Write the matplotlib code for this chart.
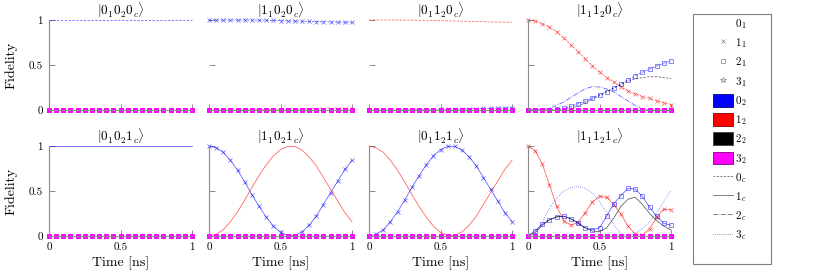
import matplotlib
matplotlib.use("Agg")
import matplotlib.pyplot as plt
from matplotlib.lines import Line2D
from matplotlib.patches import Patch, Rectangle

plt.rcParams['font.family'] = 'serif'
plt.rcParams['font.serif'] = ['cmr10', 'DejaVu Serif']
plt.rcParams['mathtext.fontset'] = 'cm'
plt.rcParams['axes.unicode_minus'] = False

# ---------------- data ----------------
t = [0.0, 0.05, 0.1, 0.15, 0.2, 0.25, 0.3, 0.35, 0.4, 0.45, 0.5,
     0.55, 0.6, 0.65, 0.7, 0.75, 0.8, 0.85, 0.9, 0.95, 1.0]

titles = [r'$|0_1 0_2 0_c\rangle$', r'$|1_1 0_2 0_c\rangle$', r'$|0_1 1_2 0_c\rangle$', r'$|1_1 1_2 0_c\rangle$',
          r'$|0_1 0_2 1_c\rangle$', r'$|1_1 0_2 1_c\rangle$', r'$|0_1 1_2 1_c\rangle$', r'$|1_1 1_2 1_c\rangle$']

ones = [1.0] * 21
zeros = [0.0] * 21

# panel |1 0 0>
p100_blue_x = [1, 1, 1, 1, 1, 1, 0.999, 0.998, 0.997, 0.995, 0.993, 0.99, 0.988, 0.986, 0.984,
               0.982, 0.98, 0.979, 0.977, 0.976, 0.975]
p100_red = [0, 0, 0, 0, 0, 0, 0.001, 0.002, 0.003, 0.005, 0.007, 0.009, 0.011, 0.013, 0.015,
            0.017, 0.019, 0.02, 0.021, 0.022, 0.023]
# panel |0 1 0>
p010_red = [1, 1, 1, 1, 0.999, 0.999, 0.998, 0.997, 0.996, 0.995, 0.993, 0.991, 0.989, 0.987, 0.985,
            0.983, 0.981, 0.979, 0.977, 0.976, 0.975]
p010_blue_x = [0, 0, 0, 0, 0, 0, 0.001, 0.002, 0.003, 0.004, 0.006, 0.008, 0.01, 0.012, 0.014,
               0.016, 0.018, 0.02, 0.022, 0.024, 0.025]
# panel |1 1 0>
p110_red_x = [1, 0.99, 0.96, 0.92, 0.87, 0.8, 0.72, 0.65, 0.57, 0.49, 0.42, 0.36, 0.31, 0.26, 0.21,
              0.18, 0.15, 0.13, 0.1, 0.08, 0.06]
p110_blue_sq = [0, 0, 0, 0.003, 0.008, 0.02, 0.04, 0.07, 0.1, 0.135, 0.17, 0.205, 0.245, 0.29, 0.335,
                0.38, 0.42, 0.455, 0.49, 0.52, 0.545]
p110_black = [0, 0, 0, 0, 0, 0.005, 0.02, 0.045, 0.08, 0.12, 0.16, 0.2, 0.245, 0.28, 0.32,
              0.345, 0.36, 0.37, 0.37, 0.36, 0.35]
p110_blue = [0, 0, 0.005, 0.02, 0.05, 0.09, 0.14, 0.19, 0.235, 0.26, 0.255, 0.235, 0.2, 0.15, 0.1,
             0.05, 0.01, 0, 0, 0, 0]
# panel |1 0 1>
p101_blue_x = [1, 0.98, 0.93, 0.84, 0.73, 0.6, 0.46, 0.33, 0.21, 0.11, 0.04, 0.005, 0.005, 0.045, 0.12,
               0.22, 0.35, 0.48, 0.61, 0.74, 0.84]
p101_red = [0, 0.02, 0.07, 0.16, 0.27, 0.4, 0.54, 0.67, 0.79, 0.89, 0.96, 0.995, 0.995, 0.955, 0.88,
            0.78, 0.65, 0.52, 0.39, 0.26, 0.16]
# panel |0 1 1>
p011_red = [1, 0.98, 0.93, 0.84, 0.73, 0.6, 0.46, 0.33, 0.21, 0.11, 0.04, 0.005, 0.005, 0.045, 0.12,
            0.22, 0.35, 0.48, 0.61, 0.74, 0.84]
p011_blue_x = [0, 0.02, 0.07, 0.16, 0.27, 0.4, 0.54, 0.67, 0.79, 0.89, 0.96, 0.995, 0.995, 0.955, 0.88,
               0.78, 0.65, 0.52, 0.39, 0.26, 0.16]
# panel |1 1 1>
p111_red_x = [1, 0.95, 0.8, 0.57, 0.33, 0.17, 0.12, 0.15, 0.26, 0.38, 0.44, 0.43, 0.35, 0.24, 0.11,
              0.02, 0.01, 0.08, 0.21, 0.3, 0.29]
p111_blue_sq = [0, 0.06, 0.13, 0.18, 0.21, 0.22, 0.19, 0.15, 0.09, 0.07, 0.09, 0.22, 0.36, 0.45, 0.53,
                0.52, 0.44, 0.32, 0.22, 0.14, 0.12]
p111_black = [0, 0.04, 0.12, 0.18, 0.215, 0.22, 0.19, 0.14, 0.09, 0.055, 0.05, 0.09, 0.2, 0.33, 0.41,
              0.43, 0.35, 0.25, 0.17, 0.11, 0.066]
p111_blue_dot = [0, 0.02, 0.15, 0.31, 0.42, 0.5, 0.54, 0.55, 0.53, 0.48, 0.38, 0.26, 0.12, 0.03, 0,
                 0.03, 0.08, 0.16, 0.26, 0.38, 0.51]

BLUE, RED, BLACK, MAG = '#0000ff', '#ff0000', '#000000', '#ff00ff'
LS = {'0c': (0, (3, 2)), '1c': '-', '2c': '-.', '3c': ':'}

# (values, color, linestyle, marker)
panels = [
    [(ones, BLUE, LS['0c'], None)],
    [(p100_blue_x, BLUE, LS['0c'], 'x'), (p100_red, RED, LS['0c'], None)],
    [(p010_red, RED, LS['0c'], None), (p010_blue_x, BLUE, LS['0c'], 'x')],
    [(p110_red_x, RED, LS['0c'], 'x'), (p110_blue_sq, BLUE, LS['0c'], 's'),
     (p110_black, BLACK, LS['0c'], None), (p110_blue, BLUE, LS['2c'], None)],
    [(ones, BLUE, LS['1c'], None)],
    [(p101_blue_x, BLUE, LS['1c'], 'x'), (p101_red, RED, LS['1c'], None)],
    [(p011_red, RED, LS['1c'], None), (p011_blue_x, BLUE, LS['1c'], 'x')],
    [(p111_red_x, RED, LS['1c'], 'x'), (p111_blue_sq, BLUE, LS['1c'], 's'),
     (p111_black, BLACK, LS['1c'], None), (p111_blue_dot, BLUE, LS['3c'], None)],
]

# ---------------- figure ----------------
W, H = 830, 278
fig = plt.figure(figsize=(W / 100, H / 100), dpi=100)
lefts = [49, 209, 369, 528]
tops = [20, 146]
aw, ah = 143, 90
SPINE = '#8a8a8a'

for i in range(8):
    r, c = divmod(i, 4)
    ax = fig.add_axes([lefts[c] / W, 1 - (tops[r] + ah) / H, aw / W, ah / H])
    ax.set_xlim(0, 1)
    ax.set_ylim(0, 1)
    for sp in ['top', 'right']:
        ax.spines[sp].set_visible(False)
    for sp in ['left', 'bottom']:
        ax.spines[sp].set_color(SPINE)
        ax.spines[sp].set_linewidth(0.8)
    if r == 0 and c in (1, 2):
        ax.spines['left'].set_visible(False)
    ax.set_xticks([0, 0.5, 1])
    ax.set_yticks([0, 0.5, 1])
    ax.tick_params(direction='in', length=4.5, width=0.7, color=SPINE, labelsize=8, pad=4.5)
    if c == 0:
        ax.set_yticklabels(['0', '0.5', '1'])
        ax.set_ylabel('Fidelity', fontsize=10)
        ax.yaxis.set_label_coords(-31 / aw, 0.5)
    else:
        ax.set_yticklabels([])
    if r == 1:
        ax.set_xticklabels(['0', '0.5', '1'])
        ax.set_xlabel('Time [ns]', fontsize=10)
        ax.xaxis.set_label_coords(0.5, -20 / ah)
    else:
        ax.set_xticklabels([])
    ax.set_title(titles[i], fontsize=9.5, pad=1.5)

    for vals, col, ls, mk in panels[i]:
        ax.plot(t, vals, color=col, ls=ls, lw=0.55, marker=mk, ms=2.6, mew=0.5,
                mfc='none', clip_on=False, alpha=0.65)
    # remaining (zero) populations, magenta drawn on top
    ax.plot(t, zeros, color=RED, ls='-', lw=0.5, clip_on=False, alpha=0.6)
    for mk in ['x', 's', '*']:
        ax.plot(t, zeros, color=MAG, ls='-', lw=0.5, marker=mk, ms=3.0, mew=0.7,
                mfc='none', clip_on=False)

# legend frame
fig.patches.append(Rectangle((693 / W, 1 - 264 / H), 78 / W, 250 / H, transform=fig.transFigure,
                             facecolor='none', edgecolor='#7f7f7f', lw=0.8))

handles = [
    Line2D([], [], ls='none', marker=None, color='gray'),
    Line2D([], [], ls='none', marker='x', color='gray', ms=3, mew=0.5),
    Line2D([], [], ls='none', marker='s', color='gray', mfc='none', ms=3, mew=0.5),
    Line2D([], [], ls='none', marker='*', color='gray', mfc='none', ms=4, mew=0.5),
    Patch(facecolor=BLUE, edgecolor='#000080', lw=0.6),
    Patch(facecolor=RED, edgecolor='#800000', lw=0.6),
    Patch(facecolor=BLACK, edgecolor='#404040', lw=0.6),
    Patch(facecolor=MAG, edgecolor='#800080', lw=0.6),
    Line2D([], [], color='black', ls=LS['0c'], lw=0.5, alpha=0.7),
    Line2D([], [], color='black', ls=LS['1c'], lw=0.5, alpha=0.7),
    Line2D([], [], color='black', ls=LS['2c'], lw=0.5, alpha=0.7),
    Line2D([], [], color='black', ls=LS['3c'], lw=0.5, alpha=0.7),
]
labels = [r'$0_1$', r'$1_1$', r'$2_1$', r'$3_1$', r'$0_2$', r'$1_2$', r'$2_2$', r'$3_2$',
          r'$0_c$', r'$1_c$', r'$2_c$', r'$3_c$']
fig.legend(handles, labels, loc='upper left', bbox_to_anchor=(713 / W, 1 - 17 / H),
           frameon=False, fontsize=8, handlelength=1.8, handleheight=1.4, handletextpad=0.15,
           labelspacing=0.47, borderpad=0, borderaxespad=0, numpoints=1)

fig.savefig('out.png', dpi=100)
